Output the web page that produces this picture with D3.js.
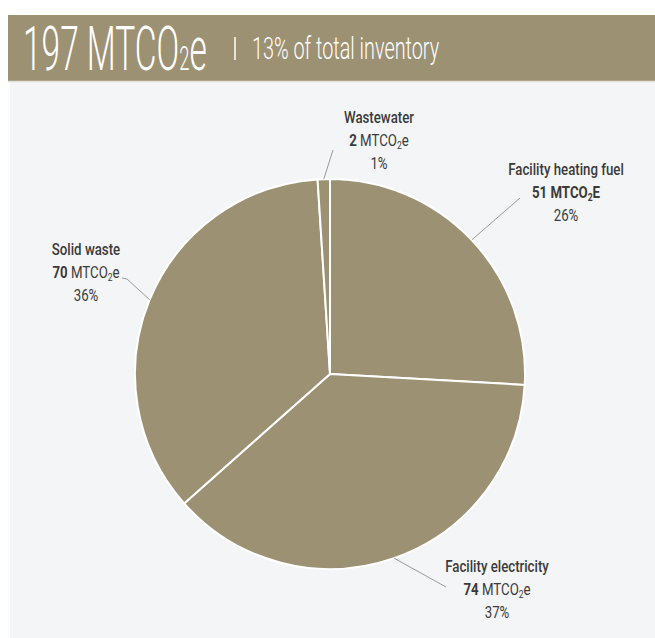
<!DOCTYPE html>
<html>
<head>
<meta charset="utf-8">
<script src="https://cdn.jsdelivr.net/npm/d3@7/dist/d3.min.js"></script>
<style>
  body { margin: 0; background: #ffffff; }
  svg { display: block; }
</style>
</head>
<body>
<svg id="chart" width="655" height="638"></svg>
<script>
// Emission sources, in drawing order (clockwise from 12 o'clock)
const categories = ["Facility heating fuel", "Facility electricity", "Solid waste", "Wastewater"];
const emissions = [51, 74, 70, 2];          // MTCO2e
const shares = [26, 37, 36, 1];             // % of this sector
const unitSuffix = ["E", "e", "e", "e"];    // trailing letter of the unit
const totalEmissions = 197;                 // MTCO2e
const inventoryShare = 13;                  // % of total inventory

// Label placement (first-line baseline, leader end, optional elbow)
const labelLayout = [
  { x: 566, y: 175, end: [520, 198], elbow: null, boldUnit: true },
  { x: 497, y: 572, end: [446, 587], elbow: null, boldUnit: false },
  { x: 86,  y: 255, end: [127, 279], elbow: [122, 278], boldUnit: false },
  { x: 379, y: 123, end: [333, 150], elbow: null, boldUnit: false }
];

const W = 655, H = 638;
const cx = 330, cy = 374, R = 195;
const khaki = "#9d9173";
const textColor = "#3b3b3b";
const fontFamily = "Roboto, 'Open Sans', sans-serif";

const svg = d3.select("#chart");

// Panel background and header band
svg.append("rect").attr("x", 10).attr("y", 81).attr("width", W - 10).attr("height", H - 81).attr("fill", "#f4f5f7");
svg.append("rect").attr("x", 8).attr("y", 15).attr("width", W - 8).attr("height", 66).attr("fill", khaki);
svg.append("line").attr("x1", 8).attr("x2", W).attr("y1", 81.5).attr("y2", 81.5)
  .attr("stroke", "#e3e0d8").attr("stroke-width", 1.5);

// Header: total and share of inventory
const head = svg.append("text")
  .attr("transform", "translate(23,70) scale(0.54,1)")
  .attr("fill", "#ffffff")
  .attr("font-family", fontFamily)
  .attr("font-weight", 300);
head.append("tspan").attr("font-size", 62).text(`${totalEmissions} MTCO`);
head.append("tspan").attr("font-size", 34).text("2");
head.append("tspan").attr("font-size", 62).text("e");

svg.append("line").attr("x1", 235).attr("x2", 235).attr("y1", 37).attr("y2", 60)
  .attr("stroke", "#ffffff").attr("stroke-width", 1.5);

svg.append("text")
  .attr("transform", "translate(252,59) scale(0.62,1)")
  .attr("fill", "#ffffff")
  .attr("font-family", fontFamily)
  .attr("font-weight", 300)
  .attr("font-size", 32)
  .text(`${inventoryShare}% of total inventory`);

// Pie
const data = categories.map((c, i) => ({ category: c, value: emissions[i], share: shares[i], i }));
const pie = d3.pie().sort(null).value(d => d.value).startAngle(0).endAngle(2 * Math.PI);
const arcs = pie(data);
const arc = d3.arc().innerRadius(0).outerRadius(R);

const g = svg.append("g").attr("transform", `translate(${cx},${cy})`);
g.selectAll("path.slice")
  .data(arcs)
  .join("path")
  .attr("class", "slice")
  .attr("d", arc)
  .attr("fill", khaki)
  .attr("stroke", "#ffffff")
  .attr("stroke-width", 2)
  .attr("stroke-linejoin", "round");

// Leader lines from the rim at each slice's mid-angle
arcs.forEach((a, i) => {
  const mid = (a.startAngle + a.endAngle) / 2;
  const start = [cx + R * Math.sin(mid), cy - R * Math.cos(mid)];
  const L = labelLayout[i];
  const pts = [start];
  if (L.elbow) pts.push(L.end, L.elbow); else pts.push(L.end);
  svg.append("path")
    .attr("d", d3.line()(pts))
    .attr("fill", "none")
    .attr("stroke", "#9a9a9a")
    .attr("stroke-width", 1);
});

// Labels
arcs.forEach((a, i) => {
  const L = labelLayout[i];
  const lg = svg.append("g")
    .attr("transform", `translate(${L.x},${L.y}) scale(0.78,1)`)
    .attr("font-family", fontFamily)
    .attr("fill", textColor)
    .attr("text-anchor", "middle");

  lg.append("text").attr("font-size", 17).attr("font-weight", 500).text(a.data.category);

  const t2 = lg.append("text").attr("y", 23).attr("font-size", 17);
  t2.append("tspan").attr("font-weight", 700).text(`${a.data.value} `);
  t2.append("tspan").attr("font-weight", L.boldUnit ? 700 : 400).text("MTCO");
  t2.append("tspan").attr("font-weight", L.boldUnit ? 700 : 400).attr("font-size", 11).attr("dy", 3).text("2");
  t2.append("tspan").attr("font-weight", L.boldUnit ? 700 : 400).attr("dy", -3).text(unitSuffix[i]);

  lg.append("text").attr("y", 46).attr("font-size", 17).attr("font-weight", 400).text(`${a.data.share}%`);
});
</script>
</body>
</html>
